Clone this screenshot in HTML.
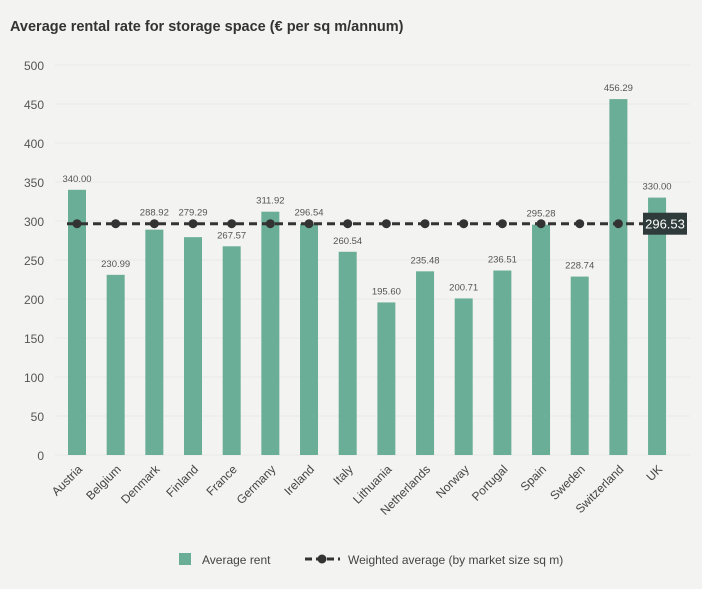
<!DOCTYPE html>
<html><head><meta charset="utf-8"><style>
body{margin:0;background:#f3f3f1;font-family:"Liberation Sans",sans-serif;}
svg{display:block}
</style></head><body>
<svg id="c" width="702" height="589" xmlns="http://www.w3.org/2000/svg">
<rect width="702" height="589" fill="#f3f3f1"/>
<text x="10" y="31" font-size="14.5" fill="#333" font-weight="bold">Average rental rate for storage space (€ per sq m/annum)</text>
<g id="grid"></g><g id="bars"></g><g id="line"></g>
<g>
<rect x="179" y="553" width="12" height="12" fill="#6aae98"/>
<text x="202" y="564" font-size="12" fill="#444">Average rent</text>
<line x1="305" y1="559" x2="340" y2="559" stroke="#333" stroke-width="3" stroke-dasharray="7,4"/>
<circle cx="322" cy="559" r="4.5" fill="#333"/>
<text x="348" y="564" font-size="12" fill="#444">Weighted average (by market size sq m)</text>
</g>
</svg>
<script>
const categories=["Austria","Belgium","Denmark","Finland","France","Germany","Ireland","Italy","Lithuania","Netherlands","Norway","Portugal","Spain","Sweden","Switzerland","UK"];
const rents=[340.00,230.99,288.92,279.29,267.57,311.92,296.54,260.54,195.60,235.48,200.71,236.51,295.28,228.74,456.29,330.00];
const weightedAvg=296.53;
const yTicks=[0,50,100,150,200,250,300,350,400,450,500];
const NS="http://www.w3.org/2000/svg";
const y=v=>455-v*0.78;
const x=i=>77+i*38.67;
function mk(t,a,p){const e=document.createElementNS(NS,t);for(const k in a)e.setAttribute(k,a[k]);p.appendChild(e);return e;}
const grid=document.getElementById('grid'),bars=document.getElementById('bars'),line=document.getElementById('line');
const wy=y(weightedAvg);
yTicks.forEach(v=>{
 const l=mk('line',{x1:55,x2:690,y1:y(v),y2:y(v),stroke:'#e8e8e6','stroke-width':1},grid);
 
 
 const t=mk('text',{x:44,y:y(v)+5,'font-size':12,fill:'#555','text-anchor':'end'},grid);t.textContent=v;
 
 
});
categories.forEach((c,i)=>{
 const r=mk('rect',{x:x(i)-9,y:y(rents[i]),width:18,height:455-y(rents[i]),fill:'#6aae98'},bars);
 
 
 let ly=y(rents[i])-8;
 if(ly>wy-5&&ly<wy+12)ly=wy-8;
 const t=mk('text',{x:x(i),y:ly,'font-size':9.5,fill:'#555','text-anchor':'middle'},bars);t.textContent=rents[i].toFixed(2);
 
 
 const l=mk('text',{x:x(i)+6,y:470,'font-size':12,fill:'#444','text-anchor':'end',transform:`rotate(-45 ${x(i)+6} 470)`},bars);l.textContent=c;
 
 
});
const wl=mk('line',{x1:x(0)-10,x2:648,y1:wy,y2:wy,stroke:'#333','stroke-width':3,'stroke-dasharray':'8,5'},line);


categories.forEach((c,i)=>{
 if(i===categories.length-1)return;
 const p=mk('circle',{cx:x(i),cy:wy,r:4.5,fill:'#333'},line);
 
 
});
const b=mk('rect',{x:643,y:wy-11,width:44,height:22,fill:'#2f3b3a'},line);


const bt=mk('text',{x:665,y:wy+5,'font-size':13,fill:'#fff','text-anchor':'middle'},line);bt.textContent=weightedAvg.toFixed(2);


</script>
</body></html>
